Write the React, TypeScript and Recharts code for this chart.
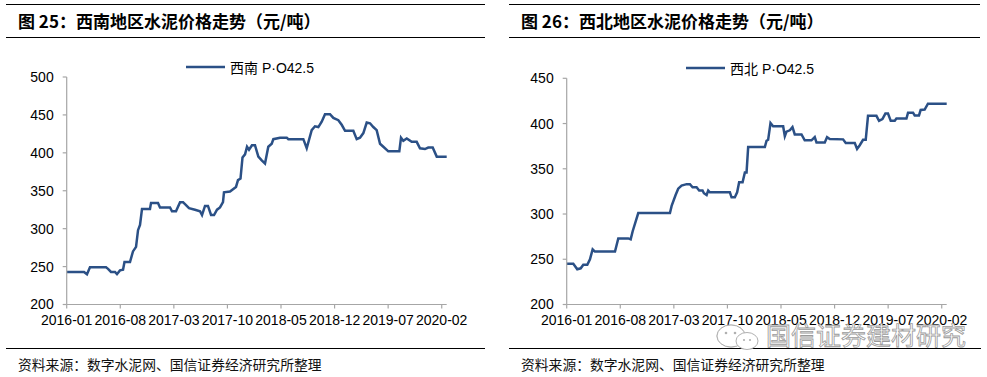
import React from 'react';
import { LineChart, Line, XAxis, YAxis, Legend } from 'recharts';

// time axis: months since 2016-01
const tickMonths = [0, 7, 14, 21, 28, 35, 42, 49];
const tickLabels = ['2016-01', '2016-08', '2017-03', '2017-10', '2018-05', '2018-12', '2019-07', '2020-02'];

// 西南 P·O42.5 (元/吨)
const swMonths = [0, 2.26, 2.65, 3.04, 5.14, 5.4, 5.79, 6.31, 6.57, 6.96, 7.36, 7.55, 8.27, 8.66, 9.06, 9.32, 9.58, 9.84, 10.88, 11.02, 11.93, 12.19, 13.5, 13.76, 14.28, 14.81, 15.2, 15.59, 15.98, 16.76, 17.42, 17.68, 18.07, 18.46, 18.86, 19.25, 19.64, 20.03, 20.42, 20.55, 21.34, 21.73, 22.12, 22.38, 22.71, 22.97, 23.3, 23.56, 23.82, 24.21, 24.6, 25.04, 25.48, 25.91, 26.34, 26.79, 27.0, 27.87, 28.75, 28.96, 30.92, 31.36, 32.01, 32.44, 32.88, 33.32, 33.75, 34.4, 34.84, 35.49, 35.93, 36.37, 37.45, 37.89, 38.32, 38.76, 39.2, 39.63, 40.06, 40.5, 40.94, 41.37, 42.02, 43.46, 43.68, 43.98, 44.43, 45.08, 45.73, 46.16, 46.81, 47.24, 47.82, 48.35, 49.65];
const swPrices = [243, 243, 240, 249, 249, 247, 243, 243, 240, 245, 246, 256, 256, 270, 276, 298, 305, 326, 326, 334, 334, 328, 328, 323, 323, 335, 335, 331, 327, 325, 323, 318, 330, 330, 318, 318, 325, 328, 335, 348, 349, 352, 355, 364, 366, 394, 398, 408, 404, 410, 410, 395, 390, 386, 408, 412, 418, 420, 420, 418, 418, 406, 430, 435, 434, 441, 451, 451, 446, 443, 437, 429, 429, 418, 420, 426, 440, 439, 434, 430, 412, 408, 402, 402, 420, 416, 419, 414.5, 414.5, 406, 405, 407, 407, 395, 395];

// 西北 P·O42.5 (元/吨)
const nwMonths = [0, 0.86, 1.38, 1.83, 2.17, 2.69, 3.04, 3.39, 3.69, 6.31, 6.74, 8.04, 8.36, 8.62, 9.35, 13.49, 13.71, 14.23, 14.57, 15.01, 15.67, 16.1, 16.45, 16.97, 17.31, 17.75, 17.93, 18.28, 18.49, 18.71, 21.32, 21.54, 21.97, 22.27, 22.53, 22.98, 23.28, 23.5, 23.71, 25.89, 26.11, 26.32, 26.63, 26.97, 28.28, 28.5, 28.72, 29.15, 29.5, 29.8, 30.68, 31.1, 31.98, 32.41, 32.64, 33.72, 34.02, 34.37, 36.11, 36.46, 37.64, 37.94, 38.29, 38.72, 39.07, 39.37, 40.47, 40.81, 41.25, 41.64, 41.98, 42.34, 42.86, 43.08, 44.39, 44.6, 45.25, 45.47, 46.03, 46.25, 46.77, 47.2, 49.65];
const nwPrices = [245, 245, 239, 240, 244, 244, 250, 261, 258.5, 258.5, 273, 273, 272, 281, 301, 301, 309, 321, 328, 331.5, 333, 333, 329.5, 329.5, 326, 326, 323, 321, 326, 324, 324, 318.5, 318.5, 324, 335, 335, 346, 346, 374, 374, 381, 382, 400.5, 397, 397, 386, 391, 392.5, 396, 388, 388, 381.5, 381.5, 385, 379, 379, 385, 383, 382.5, 378.5, 378.5, 372, 376, 382, 382, 408.5, 408.5, 403, 405, 411, 411, 403, 403, 405.5, 405.5, 412, 412, 409, 409, 415, 415.5, 422, 422];

const swTicksY = [200, 250, 300, 350, 400, 450, 500];
const nwTicksY = [200, 250, 300, 350, 400, 450];

const swTitle = '图 25：西南地区水泥价格走势（元/吨）';
const nwTitle = '图 26：西北地区水泥价格走势（元/吨）';
const swName = '西南 P·O42.5';
const nwName = '西北 P·O42.5';
const sourceText = '资料来源：数字水泥网、国信证券经济研究所整理';
const watermark = '国信证券建材研究';

const LINE_COLOR = '#2B5086';
const AXIS_COLOR = '#A6A6A6';
const FONT = '"Liberation Sans", Arial, "Noto Sans CJK SC", sans-serif';
const CJK = '"Noto Sans CJK SC", sans-serif';

const toRows = (ms: number[], vs: number[]) => ms.map((m, i) => ({ m, v: vs[i] }));

const LegendContent = ({ name }: { name: string }) => (
  <div style={{ display: 'flex', alignItems: 'center', height: 20, fontFamily: FONT, fontSize: 14, color: '#000', whiteSpace: 'nowrap' }}>
    <svg width={44} height={20}>
      <line x1={0} y1={10} x2={39} y2={10} stroke={LINE_COLOR} strokeWidth={2.5} />
    </svg>
    <span>{name}</span>
  </div>
);

function Panel({ left, title, name, rows, yTicks, topMargin }: any) {
  const yMax = yTicks[yTicks.length - 1];
  return (
    <div style={{ position: 'absolute', left, top: 0, width: 494, height: 377 }}>
      <LineChart
        width={494}
        height={377}
        data={rows}
        margin={{ top: topMargin, right: 47.3, bottom: 42.5, left: 6.7 }}
      >
        <Legend
          verticalAlign="top"
          align="center"
          content={() => <LegendContent name={name} />}
          wrapperStyle={{ left: 186, top: topMargin, width: 150, height: 20 }}
        />
        <XAxis
          type="number"
          dataKey="m"
          domain={[0, 49.65]}
          ticks={tickMonths}
          interval={0}
          tickFormatter={(v: number) => tickLabels[tickMonths.indexOf(v)] ?? ''}
          height={30}
          tickSize={4}
          tickMargin={7}
          axisLine={{ stroke: AXIS_COLOR, strokeWidth: 1.2 }}
          tickLine={{ stroke: AXIS_COLOR, strokeWidth: 1.2 }}
          tick={{ fill: '#000', fontSize: 14, fontFamily: FONT }}
        />
        <YAxis
          type="number"
          domain={[200, yMax]}
          ticks={yTicks}
          interval={0}
          width={60}
          tickSize={4}
          tickMargin={9}
          axisLine={{ stroke: AXIS_COLOR, strokeWidth: 1.2 }}
          tickLine={{ stroke: AXIS_COLOR, strokeWidth: 1.2 }}
          tick={{ fill: '#000', fontSize: 14, fontFamily: FONT }}
        />
        <Line
          type="linear"
          dataKey="v"
          name={name}
          stroke={LINE_COLOR}
          strokeWidth={2.5}
          dot={false}
          activeDot={false}
          isAnimationActive={false}
        />
      </LineChart>
    </div>
  );
}

function Header({ x, w, title }: any) {
  return (
    <>
      <div style={{ position: 'absolute', left: x, top: 4, width: w, height: 1, background: '#000' }} />
      <div style={{ position: 'absolute', left: x + 12, top: 8, height: 26, lineHeight: '26px', fontFamily: CJK, fontWeight: 700, fontSize: 17, color: '#000', whiteSpace: 'nowrap' }}>
        {title}
      </div>
      <div style={{ position: 'absolute', left: x, top: 37, width: w, height: 1, background: '#000' }} />
    </>
  );
}

function Footer({ x, w }: any) {
  return (
    <>
      <div style={{ position: 'absolute', left: x, top: 348, width: w, height: 1, background: '#000' }} />
      <div style={{ position: 'absolute', left: x + 12, top: 354, height: 20, lineHeight: '20px', fontFamily: CJK, fontSize: 13.8, color: '#111', whiteSpace: 'nowrap' }}>
        {sourceText}
      </div>
    </>
  );
}

export default function App() {
  return (
    <div style={{ position: 'absolute', left: 0, top: 0, width: 987, height: 377, background: '#fff', overflow: 'hidden' }}>
      <Header x={6} w={479} title={swTitle} />
      <Header x={509} w={471} title={nwTitle} />
      <Panel left={0} title={swTitle} name={swName} rows={toRows(swMonths, swPrices)} yTicks={swTicksY} topMargin={57} />
      <Panel left={500} title={nwTitle} name={nwName} rows={toRows(nwMonths, nwPrices)} yTicks={nwTicksY} topMargin={58.3} />
      <Footer x={6} w={479} />
      <Footer x={509} w={472} />
      <svg width={987} height={377} style={{ position: 'absolute', left: 0, top: 0, pointerEvents: 'none' }}>
        <g fill="#fff" stroke="#B0B0B0" strokeWidth={1}>
          <path d="M731,325 a14,11 0 1,0 0.1,0 z" transform="translate(0,0)" />
          <ellipse cx={731} cy={336} rx={14} ry={11} />
          <ellipse cx={747} cy={341} rx={11} ry={8.5} />
        </g>
        <g fill="#B0B0B0">
          <circle cx={726} cy={333} r={1.3} />
          <circle cx={735} cy={333} r={1.3} />
          <circle cx={744} cy={340} r={1.1} />
          <circle cx={750} cy={340} r={1.1} />
        </g>
        <text x={766} y={345} fontFamily={CJK} fontSize={25} fill="#fff" stroke="#9A9A9A" strokeWidth={0.8}>
          {watermark}
        </text>
      </svg>
    </div>
  );
}
